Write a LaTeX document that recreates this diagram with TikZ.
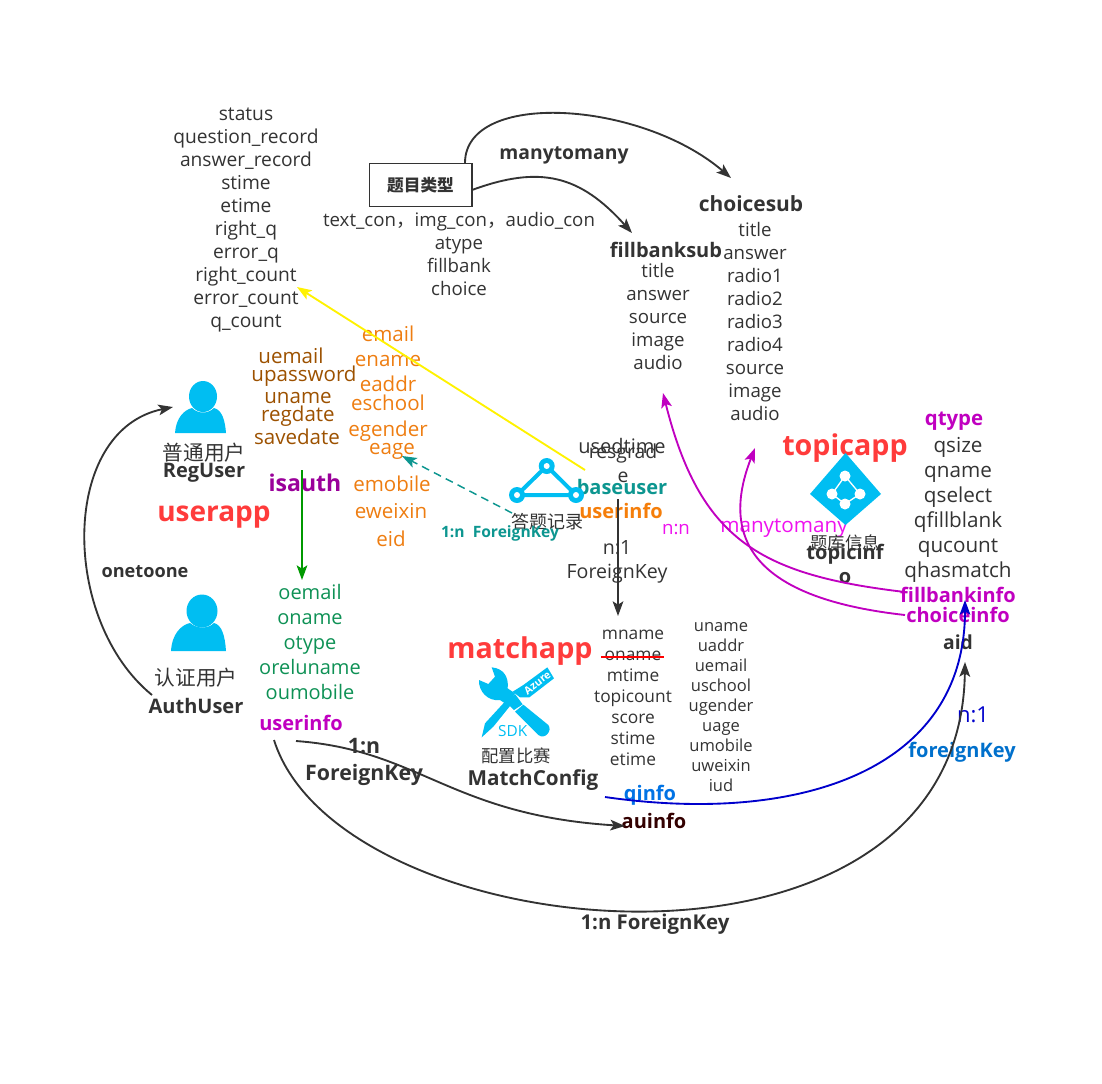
\documentclass[tikz,border=0pt]{standalone}
\usepackage{fontspec}
\setmainfont{Open Sans}
\newfontfamily\cjk{Noto Sans CJK SC}
\usetikzlibrary{arrows.meta}
\definecolor{ink}{HTML}{333333}
\definecolor{iconblue}{HTML}{00BEF2}
\definecolor{appred}{HTML}{FF3B3B}
\definecolor{brownt}{HTML}{9C5100}
\definecolor{oranget}{HTML}{EE7D11}
\definecolor{greent}{HTML}{0E9155}
\definecolor{magt}{HTML}{C000C0}
\definecolor{magl}{HTML}{EE11EE}
\definecolor{tealt}{HTML}{0D9690}
\definecolor{greena}{HTML}{009900}
\definecolor{bluea}{HTML}{0000CC}
\newcommand\pxf[2]{\fontsize{#1}{#2}\selectfont}
\tikzset{
  tip/.style={-{Stealth[length=11pt,width=8pt,inset=2.5pt]}},
  lab/.style={inner sep=0pt,text=ink,align=center},
  listA/.style={lab,font=\pxf{14}{17.25}},
  listM/.style={lab,font=\pxf{13}{15.75}},
  listU/.style={lab,font=\pxf{12.4}{15}},
  listQ/.style={lab,font=\pxf{15.5}{18.75}},
  listO/.style={lab,text=greent,font=\pxf{15}{18.75}},
  brownl/.style={lab,text=brownt,font=\pxf{15.4}{15}},
  orangel/.style={lab,text=oranget,font=\pxf{15.4}{15}},
  boldm/.style={lab,font=\bfseries\pxf{14.5}{18}},
  boldl/.style={lab,font=\bfseries\pxf{15}{18}},
  appname/.style={lab,text=appred,font=\bfseries\pxf{21.5}{24}},
  cjkl/.style={lab,font=\cjk\pxf{14.5}{16}},
  conn/.style={ink,line width=1.4pt,tip},
  magc/.style={magt,line width=1.4pt,tip},
  iconfill/.style={fill=iconblue,draw=none}
}
\begin{document}
\begin{tikzpicture}[x=0.75pt,y=-0.75pt]
\useasboundingbox (0,0) rectangle (1102,1083);
% top lists
\node[listA,font=\pxf{14.4}{17.25}] (recfields) at (246,220) {status\\question\_record\\answer\_record\\stime\\etime\\right\_q\\error\_q\\right\_count\\error\_count\\q\_count};
\node[draw=ink,line width=1pt,minimum width=77pt,minimum height=32pt,inner sep=0pt,text=ink,font=\cjk\bfseries\pxf{12.5}{14}] (qtypebox) at (420.5,185) {题目类型};
\node[listA] (confields) at (459,253.5) {text\_con{\cjk，}img\_con{\cjk，}audio\_con\\atype\\fillbank\\choice};
\node[boldm] (mtm) at (564,155) {manytomany};
\node[boldl,font=\bfseries\pxf{15.7}{18}] (choicesub) at (751,204) {choicesub};
\node[listA] (choicelist) at (755,321) {title\\answer\\radio1\\radio2\\radio3\\radio4\\source\\image\\audio};
\node[boldl] (fillsub) at (666,250) {fillbanksub};
\node[listA] (filllist) at (658,316) {title\\answer\\source\\image\\audio};
% brown
\node[brownl] (uemail) at (291,356) {uemail};
\node[brownl] (upassword) at (304,376) {upassword};
\node[brownl] (uname) at (298,398) {uname};
\node[brownl] (regdate) at (298,416) {regdate};
\node[brownl] (savedate) at (297,437) {savedate};
% orange
\node[orangel] (email) at (388,334) {email};
\node[orangel] (ename) at (388,361) {ename};
\node[orangel] (eaddr) at (388,384) {eaddr};
\node[orangel] (eschool) at (388,403) {eschool};
\node[orangel] (egender) at (388,431) {egender};
\node[orangel] (eage) at (392,451) {eage};
\node[orangel] (emobile) at (392,484) {emobile};
\node[orangel] (eweixin) at (391,511) {eweixin};
\node[orangel] (eid) at (391,539) {eid};
% user side
\node[boldl,text=magt!80!black,font=\bfseries\pxf{17.3}{18}] (isauth) at (305,483) {isauth};
\node[listO] (olist) at (310,642) {oemail\\oname\\otype\\oreluname\\oumobile};
\node[boldm,text=magt,font=\bfseries\pxf{15}{18}] (uinfo1) at (301,723) {userinfo};
\node[cjkl,font=\cjk\pxf{15.5}{16}] (regcn) at (204,453) {普通用户};
\node[boldl] (reguser) at (204,473) {RegUser};
\node[appname,font=\bfseries\pxf{21}{24}] (userapp) at (214,517) {userapp};
\node[lab,font=\bfseries\pxf{13.6}{14}] (onetoone) at (145,572) {onetoone};
\node[cjkl,font=\cjk\pxf{15.5}{16}] (authcn) at (196,678) {认证用户};
\node[boldl] (authuser) at (196,706) {AuthUser};
% person icons
\fill[iconfill] (203,396.5) ellipse [x radius=14,y radius=15.5];
\fill[iconfill] (175,433) .. controls (176,418) and (184,410) .. (192,408) .. controls (198,414) and (208,414) .. (214,408) .. controls (222,410) and (225,420) .. (226,433) -- cycle;
\fill[iconfill] (202,611) ellipse [x radius=15.5,y radius=16.5];
\fill[iconfill] (171,651) .. controls (172,634) and (181,625) .. (190,623) .. controls (197,629) and (208,629) .. (214,623) .. controls (222,625) and (225,636) .. (226,651) -- cycle;
% answer record
\node[cjkl,font=\cjk\pxf{13.5}{16}] (anscn) at (547,522) {答题记录};
\node[lab,text=tealt,font=\bfseries\pxf{11.7}{12}] (fk1n) at (500,533) {1:n\ \ ForeignKey};
\node[listA,font=\pxf{15}{15}] (usedtime) at (622,446) {usedtime};
\node[listA,font=\pxf{14.5}{15}] (resgrad) at (623,453) {resgrad};
\node[listA,font=\pxf{14.5}{15}] (resgrade) at (623,477) {e};
\node[boldl,text=tealt] (baseuser) at (622,487) {baseuser};
\node[boldm,text=oranget!60!orange,font=\bfseries\pxf{15}{18}] (uinfo2) at (621,511) {userinfo};
\node[listA,font=\pxf{14.7}{18}] (n1) at (617,562) {n:1\\ForeignKey};
\node[lab,text=magl,font=\pxf{14}{16}] (nn) at (676,529) {n:n};
\node[lab,text=magl,font=\pxf{15.5}{16}] (mtm2) at (784,528) {manytomany};
% triangle icon
\draw[iconblue,line width=3pt] (546.7,466) -- (517,495) -- (576,495) -- cycle;
\foreach \p in {(546.7,466),(517,495),(576,495)} {
  \fill[iconblue] \p circle (8);
  \fill[white] \p circle (3);
}
% match
\node[appname] (matchapp) at (520,651) {matchapp};
\node[cjkl,font=\cjk\pxf{13}{16}] (matchcn) at (516,756) {配置比赛};
\node[boldl,font=\bfseries\pxf{15.5}{18}] (matchcfg) at (533,780) {MatchConfig};
\node[listM] (mlist) at (633,698) {mname\\oname\\mtime\\topicount\\score\\stime\\etime};
\node[listU] (ulist) at (721,707) {uname\\uaddr\\uemail\\uschool\\ugender\\uage\\umobile\\uweixin\\iud};
\node[boldl,text=blue!50!cyan!90!black] (qinfo) at (650,795) {qinfo};
\node[boldl,text=red!20!black] (auinfo) at (654,821) {auinfo};
\begin{scope}[shift={(440,610)},x=0.25pt,y=-0.25pt]
  % wrench
  \fill[iconblue] (155,172) .. controls (190,175) and (207,200) .. (203,235) -- (225,250) -- (198,282) -- (180,270) .. controls (145,275) and (115,245) .. (117,210) -- (145,222) -- (165,200) -- cycle;
  \fill[iconblue] (225,305) -- (250,284) -- (325,345) .. controls (338,362) and (315,390) .. (295,375) -- cycle;
  % screwdriver
  \fill[iconblue] (322,172) -- (342,205) -- (268,262) -- (240,262) -- (218,245) -- (250,225) -- cycle;
  \fill[iconblue] (225,252) -- (248,283) -- (222,300) -- (210,288) -- (160,350) -- (125,382) -- (135,340) -- (190,280) -- (205,268) -- cycle;
  \node[inner sep=0pt,text=white,font=\bfseries\pxf{8}{9},rotate=38] (azure) at (292,218) {Azure};
  \node[inner sep=0pt,text=iconblue,font=\pxf{11.5}{12}] (sdk) at (218,363) {SDK};
\end{scope}
% topic
\node[appname] (topicapp) at (845,448) {topicapp};
\fill[iconblue] (845.5,453) -- (881,494) -- (845.5,525) -- (810,494) -- cycle;
\draw[white,line width=1pt] (845,476) -- (860,494) -- (845,504) -- (832,494) -- cycle;
\foreach \p in {(845,476),(832,494),(860,494),(845,504)} { \fill[white] \p circle (5.5); }
\node[cjkl,font=\cjk\pxf{13}{16}] (topiccn) at (845,543) {题库信息};
\node[boldl] (topicinf) at (845,554) {topicinf};
\node[boldl] (topico) at (845,578) {o};
\node[boldm,text=magt,font=\bfseries\pxf{15.3}{18}] (qtype) at (954,421) {qtype};
\node[listQ] (qlist) at (958,510) {qsize\\qname\\qselect\\qfillblank\\qucount\\qhasmatch};
\node[boldl,text=magt] (fbinfo) at (958,595) {fillbankinfo};
\node[boldl,text=magt] (chinfo) at (958,615) {choiceinfo};
\node[boldm] (aid) at (958,642) {aid};
\node[lab,text=bluea,font=\pxf{16.5}{18}] (n1b) at (973,715) {n:1};
\node[lab,text=blue!45!cyan!80!black,font=\bfseries\pxf{15}{16}] (fkey) at (962,752) {foreignKey};
\node[boldm,font=\bfseries\pxf{15.3}{18}] (fkbottom) at (655,924) {1:n ForeignKey};
\node[boldm,font=\bfseries\pxf{16}{20}] (fkleft) at (364,762) {1:n\\ForeignKey};
% connector ends
\coordinate (yelS) at (585,470); \coordinate (yelE) at (297,287);
\coordinate (tealS) at (512,513); \coordinate (tealE) at (402,456);
\coordinate (greenS) at (302,470); \coordinate (greenE) at (302,580);
\coordinate (blkS) at (618,499); \coordinate (blkE) at (618,616);
\coordinate (redS) at (601,657); \coordinate (redE) at (664,657);
\coordinate (ootS) at (152,695); \coordinate (ootE) at (173,407);
\coordinate (boxTop) at (465,163); \coordinate (boxRight) at (472,190);
\coordinate (fbEnd) at (663,393); \coordinate (chEnd) at (755,448);
\coordinate (fbS) at (905,592); \coordinate (chS) at (905,615);
\coordinate (bluS) at (605,797); \coordinate (bluE) at (965,600);
\coordinate (sS) at (296,741); \coordinate (sE) at (625,826);
\coordinate (bigS) at (274,740); \coordinate (bigE) at (965,662);
\draw[yellow,line width=1.4pt,tip] (yelS) -- (yelE);
\draw[tealt,line width=1.1pt,dash pattern=on 6pt off 4pt,tip] (tealS) -- (tealE);
\draw[greena,line width=1.2pt,tip] (greenS) -- (greenE);
\draw[conn] (blkS) -- (blkE);
\draw[red,line width=1.2pt] (redS) -- (redE);
\draw[conn] (ootS) .. controls (60,620) and (60,430) .. (ootE);
\draw[conn] (boxTop) .. controls (465,90) and (640,100) .. (731,178);
\draw[conn] (boxRight) .. controls (540,165) and (580,175) .. (632,233);
\draw[magc] (fbS) .. controls (760,575) and (700,540) .. (fbEnd);
\draw[magc] (chS) .. controls (770,600) and (715,550) .. (chEnd);
\draw[bluea,line width=1.4pt,tip] (bluS) .. controls (800,825) and (965,770) .. (bluE);
\draw[conn] (sS) .. controls (420,750) and (450,815) .. (sE);
\draw[conn] (bigS) .. controls (340,950) and (960,1010) .. (bigE);
\end{tikzpicture}
\end{document}
